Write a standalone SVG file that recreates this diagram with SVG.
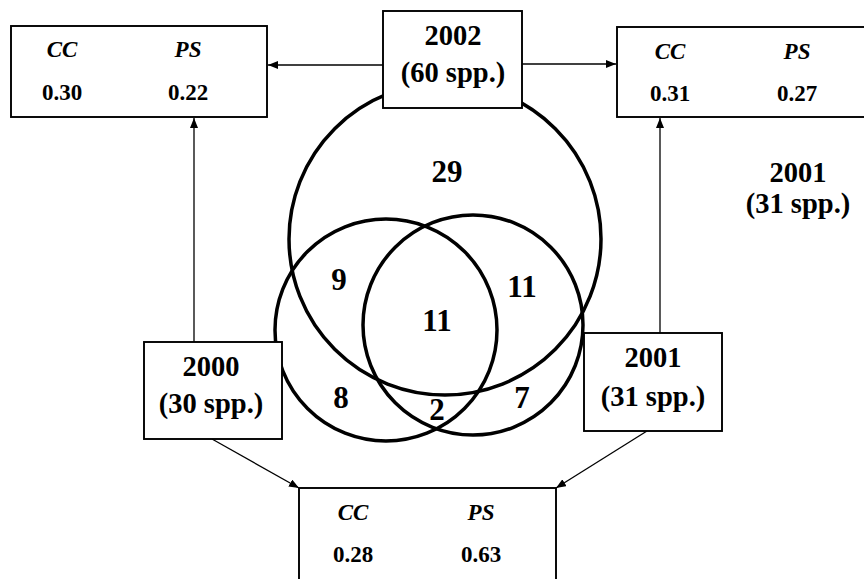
<svg xmlns="http://www.w3.org/2000/svg" width="864" height="579" viewBox="0 0 864 579">
  <defs>
    <marker id="arrow" viewBox="0 0 10 8" refX="10" refY="4" markerWidth="10" markerHeight="8" markerUnits="userSpaceOnUse" orient="auto">
      <path d="M0,0 L10,4 L0,8 Z" fill="#000"/>
    </marker>
  </defs>
  <style>
    .box { fill: #fff; stroke: #000; stroke-width: 1.9; }
    .ring { fill: none; stroke: #000; stroke-width: 3.5; }
    .link { fill: none; stroke: #000; stroke-width: 1.3; marker-end: url(#arrow); }
    .t { font-family: 'Liberation Serif', 'Times New Roman', 'DejaVu Serif', serif; font-weight: bold; fill: #000; text-anchor: middle; }
    .year { font-size: 28.5px; }
    .idx { font-size: 23px; font-style: italic; }
    .val { font-size: 23px; }
    .count { font-size: 31px; }
  </style>
  <rect width="864" height="579" fill="#fff"/>

  <!-- Venn diagram of species by year -->
  <g id="venn">
    <circle class="ring" cx="445" cy="239" r="156"/>
    <circle class="ring" cx="386" cy="330" r="111"/>
    <circle class="ring" cx="473" cy="325" r="110"/>
    <text class="t count" x="447" y="182">29</text>
    <text class="t count" x="339" y="290">9</text>
    <text class="t count" x="522" y="297">11</text>
    <text class="t count" x="437" y="331">11</text>
    <text class="t count" x="341" y="408">8</text>
    <text class="t count" x="437" y="420">2</text>
    <text class="t count" x="522" y="408">7</text>
  </g>

  <!-- connectors -->
  <g id="connectors">
    <line class="link" x1="383" y1="65" x2="268" y2="65"/>
    <line class="link" x1="522" y1="64" x2="616" y2="64"/>
    <line class="link" x1="194" y1="342" x2="194" y2="118"/>
    <line class="link" x1="660" y1="333" x2="660" y2="118"/>
    <line class="link" x1="212" y1="439" x2="299" y2="488"/>
    <line class="link" x1="647" y1="431" x2="556" y2="488"/>
  </g>

  <g id="node-2002">
    <rect class="box" x="383" y="11" width="139" height="97"/>
    <text class="t year" x="453" y="45">2002</text>
    <text class="t year" x="453" y="82">(60 spp.)</text>
  </g>

  <g id="node-2000">
    <rect class="box" x="144" y="342" width="138" height="97"/>
    <text class="t year" x="211" y="376">2000</text>
    <text class="t year" x="211" y="413">(30 spp.)</text>
  </g>

  <g id="node-2001">
    <rect class="box" x="584" y="333" width="138" height="98"/>
    <text class="t year" x="653" y="367">2001</text>
    <text class="t year" x="653" y="406">(31 spp.)</text>
  </g>

  <g id="label-2001">
    <text class="t year" x="798" y="182">2001</text>
    <text class="t year" x="798" y="213">(31 spp.)</text>
  </g>

  <g id="node-2000-2002">
    <rect class="box" x="11" y="26" width="256" height="91"/>
    <text class="t idx" x="62" y="57">CC</text>
    <text class="t idx" x="188" y="57">PS</text>
    <text class="t val" x="62" y="100">0.30</text>
    <text class="t val" x="188" y="100">0.22</text>
  </g>

  <g id="node-2001-2002">
    <rect class="box" x="617" y="27" width="260" height="90"/>
    <text class="t idx" x="670" y="59">CC</text>
    <text class="t idx" x="797" y="59">PS</text>
    <text class="t val" x="670" y="101">0.31</text>
    <text class="t val" x="797" y="101">0.27</text>
  </g>

  <g id="node-2000-2001">
    <rect class="box" x="299" y="488" width="257" height="100"/>
    <text class="t idx" x="353" y="520">CC</text>
    <text class="t idx" x="481" y="520">PS</text>
    <text class="t val" x="353" y="562">0.28</text>
    <text class="t val" x="481" y="562">0.63</text>
  </g>
</svg>
